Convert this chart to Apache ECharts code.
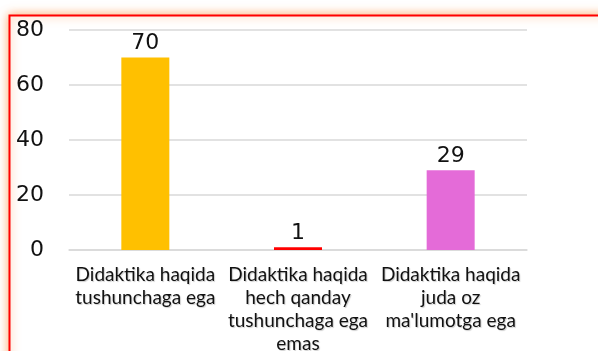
<!DOCTYPE html>
<html>
<head>
<meta charset="utf-8">
<script src="https://cdn.jsdelivr.net/npm/echarts@6/dist/echarts.min.js"></script>
<style>
  html, body { margin: 0; padding: 0; background: #fff; }
  #chart { width: 598px; height: 351px; }
</style>
</head>
<body>
<div id="chart"></div>
<script>
// Survey responses: understanding of didactics
const categories = [
  "Didaktika haqida\ntushunchaga ega",
  "Didaktika haqida\nhech qanday\ntushunchaga ega\nemas",
  "Didaktika haqida\njuda oz\nma'lumotga ega"
];
const values = [70, 1, 29];
const barColors = ["#FFC000", "#FF0000", "#E46BD8"];
const yTicks = [0, 20, 40, 60, 80];

const chart = echarts.init(document.getElementById('chart'));
chart.setOption({
  animation: false,
  backgroundColor: '#ffffff',
  graphic: [{
    type: 'rect',
    z: -10,
    silent: true,
    shape: { x: 9.5, y: 15.5, width: 700, height: 400 },
    style: {
      fill: '#ffffff',
      stroke: '#FF0000',
      lineWidth: 2,
      shadowColor: 'rgba(255,140,60,0.75)',
      shadowBlur: 10
    }
  }],
  grid: { left: 69, right: 71, top: 30, bottom: 101, containLabel: false, outerBoundsMode: 'none' },
  xAxis: {
    type: 'category',
    data: categories,
    axisLine: { show: true, lineStyle: { color: '#d9d9d9', width: 1.5 } },
    axisTick: { show: false },
    axisLabel: {
      interval: 0,
      margin: 13,
      fontFamily: 'Lato',
      fontSize: 19,
      lineHeight: 23,
      color: '#111',
      textShadowColor: 'rgba(0,0,0,0.2)',
      textShadowOffsetX: 1,
      textShadowOffsetY: 1,
      textShadowBlur: 1
    }
  },
  yAxis: {
    type: 'value',
    min: yTicks[0],
    max: yTicks[yTicks.length - 1],
    interval: yTicks[1] - yTicks[0],
    axisLine: { show: false },
    axisTick: { show: false },
    splitLine: { lineStyle: { color: '#d9d9d9', width: 1.5 } },
    axisLabel: {
      margin: 25,
      fontFamily: 'DejaVu Sans',
      fontSize: 22,
      color: '#111'
    }
  },
  series: [{
    type: 'bar',
    barWidth: 48,
    data: values.map((v, i) => ({ value: v, itemStyle: { color: barColors[i] } })),
    label: {
      show: true,
      position: 'top',
      distance: 3,
      fontFamily: 'DejaVu Sans',
      fontSize: 22,
      color: '#111'
    }
  }]
});
</script>
</body>
</html>
